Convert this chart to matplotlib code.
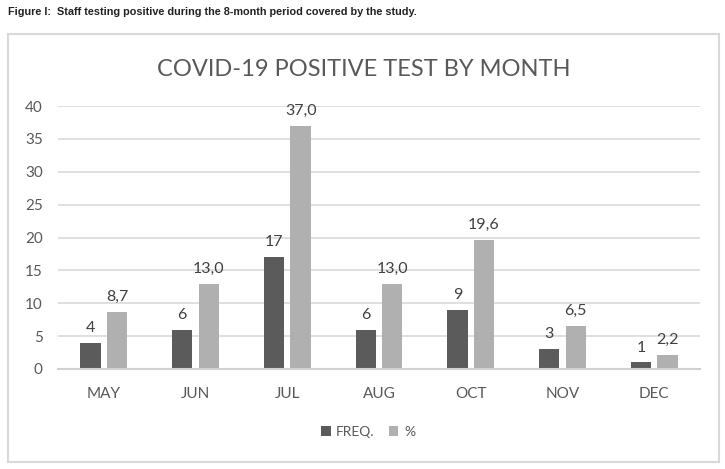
import numpy as np
import matplotlib
matplotlib.use("Agg")
import matplotlib.pyplot as plt
from matplotlib.patches import Rectangle

# ---------- données ----------
MONTHS = ["MAY", "JUN", "JUL", "AUG", "OCT", "NOV", "DEC"]
FREQ = [4, 6, 17, 6, 9, 3, 1]
PCT = [8.7, 13.0, 37.0, 13.0, 19.6, 6.5, 2.2]
YTICKS = [0, 5, 10, 15, 20, 25, 30, 35, 40]
# -----------------------------

DARK = "#5b5b5b"
LIGHT = "#b0b0b0"
TXT = "#595959"
FONT = ["Lato", "DejaVu Sans"]

plt.rcParams["font.family"] = FONT

fig = plt.figure(figsize=(7.25, 4.69), dpi=100)
fig.patch.set_facecolor("white")

# cadre du graphique (sous les axes)
fig.add_artist(Rectangle((8 / 725, 1 - 462 / 469), 711 / 725, 428 / 469,
                         transform=fig.transFigure, facecolor="none",
                         edgecolor="#d9d9d9", linewidth=1.5, zorder=-10))

fig.text(8 / 725, 1 - 12 / 469,
         "Figure I:  Staff testing positive during the 8-month period covered by the study.",
         fontsize=7.8, fontweight="bold", color="#222222", va="center",
         family=["Liberation Sans", "DejaVu Sans"])

ax = fig.add_axes([58 / 725, 1 - 369 / 469, 642 / 725, 263 / 469])
ax.patch.set_alpha(0)
x = np.arange(len(MONTHS))
w = 0.22
gap = 0.035
b1 = ax.bar(x - w / 2 - gap, FREQ, w, color=DARK, label="FREQ.")
b2 = ax.bar(x + w / 2 + gap, PCT, w, color=LIGHT, label="%")

for rect, v in zip(b1, FREQ):
    ax.text(rect.get_x() + rect.get_width() / 2, v + 1.2, str(v),
            ha="center", va="bottom", fontsize=11.5, color="#404040")
for rect, v in zip(b2, PCT):
    ax.text(rect.get_x() + rect.get_width() / 2, v + 1.2,
            f"{v:.1f}".replace(".", ","),
            ha="center", va="bottom", fontsize=11.5, color="#404040")

ax.set_xlim(-0.5, len(MONTHS) - 0.5)
ax.set_ylim(0, 40)
ax.set_yticks(YTICKS)
ax.set_xticks(x)
ax.set_xticklabels(MONTHS)
ax.tick_params(axis="both", length=0, labelsize=11, colors=TXT)
ax.tick_params(axis="x", pad=13)
ax.tick_params(axis="y", pad=11)
ax.yaxis.grid(True, color="#d9d9d9", linewidth=1.2)
ax.set_axisbelow(True)
for s in ["top", "right", "left"]:
    ax.spines[s].set_visible(False)
ax.spines["bottom"].set_color("#d0d0d0")
ax.spines["bottom"].set_linewidth(1.5)

fig.text(364 / 725, 1 - 70 / 469, "COVID-19 POSITIVE TEST BY MONTH",
         ha="center", va="center", fontsize=17, color=TXT)

fig.legend(handles=[b1, b2], labels=["FREQ.", "%"], loc="center",
           bbox_to_anchor=(368 / 725, 1 - 432 / 469), ncol=2, frameon=False,
           fontsize=10, labelcolor=TXT, handlelength=0.7, handleheight=0.7,
           handletextpad=0.4, columnspacing=1.0)

fig.savefig("out.png", dpi=100)
